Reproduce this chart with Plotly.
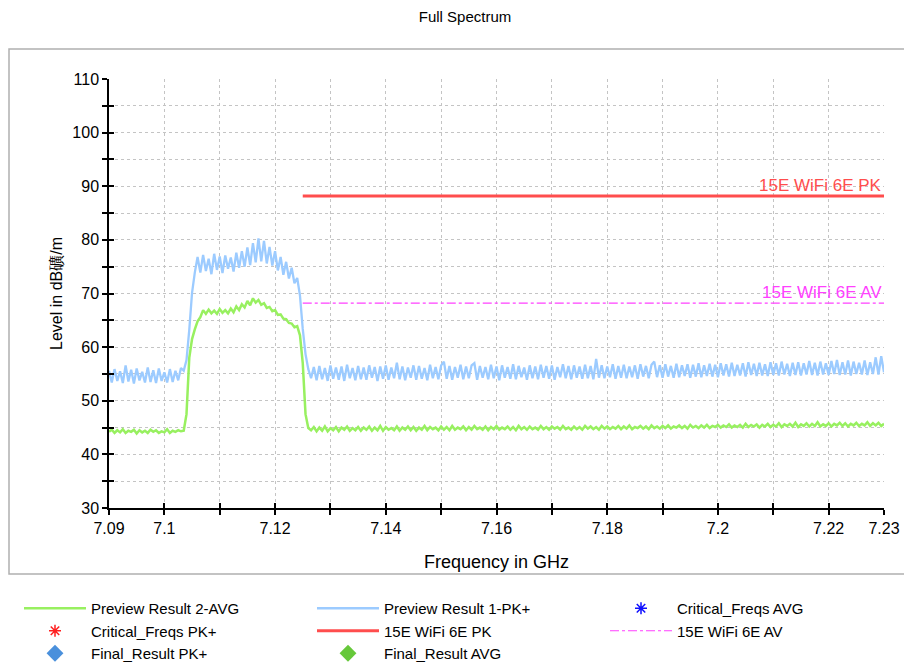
import plotly.graph_objects as go

# ---------------- data ----------------
F_START = 7.09
F_STEP = 0.0005

avg_levels = [
    44.2, 44.6, 44.0, 44.5, 44.1, 44.7, 44.0, 44.4, 44.2, 44.6, 43.9, 44.5, 44.1, 44.4, 44.0, 44.6, 44.2, 44.5, 44.0, 44.3, 44.1, 44.7, 44.0, 44.4, 44.2, 44.5, 44.3,
    44.4, 47.5, 58.0, 61.5, 63.3, 64.8, 65.6,
    66.9, 66.2, 67.0, 66.3, 66.8, 66.2, 67.1, 66.4, 66.9, 66.3, 67.2, 66.5,
    67.6, 66.9, 68.0, 67.4, 68.6, 67.8, 69.1, 68.3,
    68.8, 67.9, 68.2, 67.3, 67.5, 66.7, 66.9, 66.0,
    66.1, 65.3, 65.2, 64.5, 64.4, 63.7,
    63.9, 62.2, 57.0, 47.5, 44.9,
    44.5, 45.1, 44.3, 45.0, 44.4, 45.2, 44.3, 44.9, 44.5, 45.1, 44.3, 45.0, 44.6, 45.2, 44.4, 44.9,
    44.5, 45.1, 44.4, 45.0, 44.6, 45.2, 44.4, 45.0, 44.5, 45.3, 44.4, 45.1, 44.6, 44.9, 44.5, 45.2,
    44.4, 45.0, 44.6, 45.2, 44.5, 45.1, 44.4, 45.0, 44.6, 45.3, 44.5, 45.1, 44.7, 45.0, 44.5, 45.2,
    44.6, 45.1, 44.5, 45.3, 44.6, 45.0, 44.7, 45.2, 44.5, 45.1, 44.6, 45.3, 44.7, 45.0, 44.6, 45.2,
    44.5, 45.1, 44.7, 45.3, 44.6, 45.0, 44.7, 45.2, 44.6, 45.1, 44.5, 45.3, 44.7, 45.1, 44.6, 45.2,
    44.7, 45.0, 44.6, 45.3, 44.7, 45.1, 44.6, 45.2, 44.8, 45.1, 44.6, 45.3, 44.7, 45.0, 44.6, 45.2,
    44.7, 45.1, 44.6, 45.3, 44.8, 45.2, 44.7, 45.1, 44.6, 45.3, 44.8, 45.2, 44.7, 45.1, 44.8, 45.3,
    44.7, 45.2, 44.8, 45.4, 44.7, 45.1, 44.9, 45.3, 44.8, 45.2, 44.7, 45.4, 44.9, 45.2, 44.8, 45.3,
    44.9, 45.4, 44.8, 45.2, 45.0, 45.4, 44.9, 45.3, 44.8, 45.5, 45.0, 45.3, 44.9, 45.4, 45.0, 45.5,
    44.9, 45.3, 45.1, 45.5, 45.0, 45.4, 45.1, 45.6, 45.0, 45.4, 45.1, 45.5, 45.0, 45.7, 45.1, 45.5,
    45.2, 45.6, 45.0, 45.5, 45.2, 45.7, 45.1, 45.5, 45.2, 45.8, 45.1, 45.6, 45.3, 45.7, 45.2, 45.9,
    45.1, 45.6, 45.3, 45.8, 45.2, 45.7, 45.3, 46.0, 45.2, 45.6, 45.3, 45.8, 45.2, 45.7, 45.4, 45.9,
    45.3, 45.8, 45.2, 45.7, 45.4, 45.9, 45.3, 45.7, 45.4, 46.0, 45.3, 45.8, 45.4, 45.9, 45.3, 45.7,
]

pk_levels = [
    55.6, 53.4, 55.9, 53.7, 55.5, 53.3, 56.6, 53.6, 55.8, 53.2, 56.0, 53.8, 55.4, 53.4, 56.2, 53.5, 55.7, 53.3, 56.0, 53.7, 55.3, 53.4, 55.9, 53.5, 55.6, 53.8, 56.1,
    55.6, 57.6, 63.2, 70.1, 73.9,
    76.8, 73.9, 77.2, 74.2, 76.5, 73.6, 77.4, 74.4, 76.9, 73.8, 77.1, 74.6, 76.7, 74.1, 77.6, 74.8, 77.9, 75.0,
    78.6, 75.3, 79.4, 75.8, 80.3, 76.0, 79.8, 75.6,
    78.7, 75.2, 77.9, 74.3, 76.8, 73.5, 75.9, 72.8, 74.8, 71.9,
    72.9, 69.6, 63.4, 58.7, 55.9,
    54.2, 56.3, 53.8, 56.5, 54.0, 56.1, 53.7, 56.6, 54.1, 56.2, 53.9, 56.4, 53.7, 56.7, 54.2, 56.1,
    53.8, 56.5, 54.0, 56.2, 53.9, 56.6, 54.3, 56.3, 53.7, 56.4, 54.1, 56.6, 53.9, 56.2, 54.2, 57.1,
    54.0, 56.4, 53.8, 56.2, 54.3, 56.6, 53.9, 56.5, 54.1, 56.1, 53.8, 56.7, 54.2, 56.3, 54.0, 56.6,
    57.3, 54.1, 56.5, 53.9, 56.3, 54.3, 56.7, 54.0, 56.4, 54.2, 56.6, 57.0, 53.9, 56.5, 54.3, 56.3,
    54.0, 56.7, 54.2, 56.4, 53.8, 56.6, 54.3, 56.3, 54.1, 56.8, 54.0, 56.5, 54.4, 56.2, 53.9, 56.6,
    54.2, 56.4, 54.0, 56.7, 54.3, 56.5, 54.1, 56.6, 53.9, 56.3, 54.4, 56.8, 54.2, 56.5, 54.0, 56.6,
    54.3, 56.4, 54.1, 56.7, 54.2, 56.5, 54.0, 57.8, 54.3, 56.6, 54.2, 56.4, 54.4, 56.8, 54.1, 56.5,
    54.3, 56.7, 54.2, 56.4, 54.4, 56.6, 54.1, 56.8, 54.5, 56.5, 54.2, 56.7, 57.3, 54.4, 56.6, 54.3,
    56.8, 54.5, 56.5, 54.3, 56.9, 54.4, 56.6, 54.6, 56.8, 54.3, 56.7, 54.5, 57.0, 54.4, 56.6, 54.6,
    56.9, 54.5, 56.7, 54.4, 57.0, 54.7, 56.8, 54.5, 57.1, 54.6, 56.7, 54.7, 57.0, 54.5, 57.2, 54.8,
    56.9, 54.6, 57.1, 54.7, 56.8, 54.6, 57.2, 54.8, 57.0, 54.7, 57.3, 54.9, 56.9, 54.6, 57.1, 54.8,
    57.2, 54.7, 57.0, 54.9, 57.4, 54.8, 57.1, 54.7, 57.3, 54.9, 57.0, 54.8, 57.4, 55.0, 57.6, 54.8,
    57.2, 54.9, 57.5, 54.7, 57.3, 55.0, 57.1, 54.9, 57.5, 54.8, 57.2, 55.0, 58.1, 54.9, 58.3, 55.3,
]

limit_freqs = [7.125, 7.23]
limit_pk = [88.2, 88.2]
limit_av = [68.2, 68.2]

x_tickvals = [7.09, 7.10, 7.11, 7.12, 7.13, 7.14, 7.15, 7.16, 7.17, 7.18, 7.19, 7.20, 7.21, 7.22, 7.23]
x_ticktext = ["7.09", "7.1", "", "7.12", "", "7.14", "", "7.16", "", "7.18", "", "7.2", "", "7.22", "7.23"]
y_tickvals = [30, 35, 40, 45, 50, 55, 60, 65, 70, 75, 80, 85, 90, 95, 100, 105, 110]
y_ticktext = ["30", "", "40", "", "50", "", "60", "", "70", "", "80", "", "90", "", "100", "", "110"]

avg_freqs = [round(F_START + i * F_STEP, 5) for i in range(len(avg_levels))]
pk_freqs = [round(F_START + i * F_STEP, 5) for i in range(len(pk_levels))]

FONT = "Liberation Sans, Arial, sans-serif"

# page body has an 8px default margin: build the figure 8px smaller and shifted
OFF = 8
W, H = 912 - OFF, 666 - OFF
PL, PR, PT, PB = 109, 884, 79, 508          # plot area in page pixels
PW, PH = PR - PL, PB - PT


def px_x(p):
    return (p - PL) / PW


def px_y(p):
    return (PB - p) / PH


fig = go.Figure()
fig.add_trace(go.Scatter(x=avg_freqs, y=avg_levels, mode="lines", name="Preview Result 2-AVG",
                         line=dict(color="#98f060", width=2.5, simplify=False)))
fig.add_trace(go.Scatter(x=pk_freqs, y=pk_levels, mode="lines", name="Preview Result 1-PK+",
                         line=dict(color="#9ccbff", width=2.3, simplify=False)))
fig.add_trace(go.Scatter(x=[None], y=[None], mode="markers", name="Critical_Freqs AVG",
                         marker=dict(symbol="asterisk-open", size=10, color="#1010ff",
                                     line=dict(color="#1010ff", width=1.5))))
fig.add_trace(go.Scatter(x=[None], y=[None], mode="markers", name="Critical_Freqs PK+",
                         marker=dict(symbol="asterisk-open", size=10, color="#ff2020",
                                     line=dict(color="#ff2020", width=1.5))))
fig.add_trace(go.Scatter(x=limit_freqs, y=limit_pk, mode="lines", name="15E WiFi 6E PK",
                         line=dict(color="#ff4d4d", width=3)))
fig.add_trace(go.Scatter(x=limit_freqs, y=limit_av, mode="lines", name="15E WiFi 6E AV",
                         line=dict(color="#ff40ff", width=1.2, dash="dashdot")))
fig.add_trace(go.Scatter(x=[None], y=[None], mode="markers", name="Final_Result PK+",
                         marker=dict(symbol="diamond", size=13, color="#4a90dc")))
fig.add_trace(go.Scatter(x=[None], y=[None], mode="markers", name="Final_Result AVG",
                         marker=dict(symbol="diamond", size=13, color="#66c83a")))
# helper trace for the inner half of the crossing tick marks
fig.add_trace(go.Scatter(x=[None], y=[None], xaxis="x2", yaxis="y2", showlegend=False,
                         hoverinfo="skip"))

fig.add_annotation(x=limit_freqs[1], y=limit_pk[1], text="15E WiFi 6E PK", showarrow=False,
                   xanchor="right", yanchor="bottom", yshift=-1,
                   font=dict(family=FONT, size=17, color="#ff4d4d"))
fig.add_annotation(x=limit_freqs[1], y=limit_av[1], text="15E WiFi 6E AV", showarrow=False,
                   xanchor="right", yanchor="bottom", yshift=-1,
                   font=dict(family=FONT, size=17, color="#ff40ff"))

# outer frame
fig.add_shape(type="rect", xref="paper", yref="paper",
              x0=px_x(9), x1=px_x(920), y0=px_y(574), y1=px_y(49),
              line=dict(color="#b0b0b0", width=1.5), layer="below")

axis_common = dict(showline=True, linecolor="black", linewidth=1.5, ticks="outside",
                   ticklen=5, tickwidth=1.5, tickcolor="black",
                   showgrid=True, gridcolor="#c4c4c4", griddash="dot", gridwidth=1,
                   zeroline=False, tickfont=dict(family=FONT, size=16, color="black"))

fig.update_layout(
    width=W, height=H,
    margin=dict(l=PL - OFF, r=W - (PR - OFF), t=PT - OFF, b=H - (PB - OFF), autoexpand=False),
    paper_bgcolor="white", plot_bgcolor="white",
    title=dict(text="Full Spectrum", x=(465 - OFF) / W, xanchor="center",
               y=1 - (17 - OFF) / H, yanchor="middle",
               font=dict(family=FONT, size=15, color="black")),
    xaxis=dict(range=[7.09, 7.23], tickmode="array", tickvals=x_tickvals, ticktext=x_ticktext,
               title=dict(text="Frequency in GHz", standoff=19,
                          font=dict(family=FONT, size=18, color="black")),
               **axis_common),
    yaxis=dict(range=[30, 110], tickmode="array", tickvals=y_tickvals, ticktext=y_ticktext,
               title=dict(text="Level in dB礦/m", standoff=6,
                          font=dict(family=FONT, size=16, color="black")),
               **axis_common),
    xaxis2=dict(overlaying="x", range=[7.09, 7.23], tickmode="array", tickvals=x_tickvals,
                showticklabels=False, ticks="inside", ticklen=5, tickwidth=1.5, tickcolor="black",
                showgrid=False, showline=False, zeroline=False, anchor="y2"),
    yaxis2=dict(overlaying="y", range=[30, 110], tickmode="array", tickvals=y_tickvals,
                showticklabels=False, ticks="inside", ticklen=5, tickwidth=1.5, tickcolor="black",
                showgrid=False, showline=False, zeroline=False, anchor="x2"),
    showlegend=True,
    legend=dict(orientation="h", x=px_x(19), xanchor="left",
                y=px_y(592), yanchor="top",
                itemwidth=62, entrywidth=216, entrywidthmode="pixels",
                font=dict(family=FONT, size=15, color="black"),
                bgcolor="rgba(0,0,0,0)", traceorder="normal"),
)

fig.write_html("out.html")
